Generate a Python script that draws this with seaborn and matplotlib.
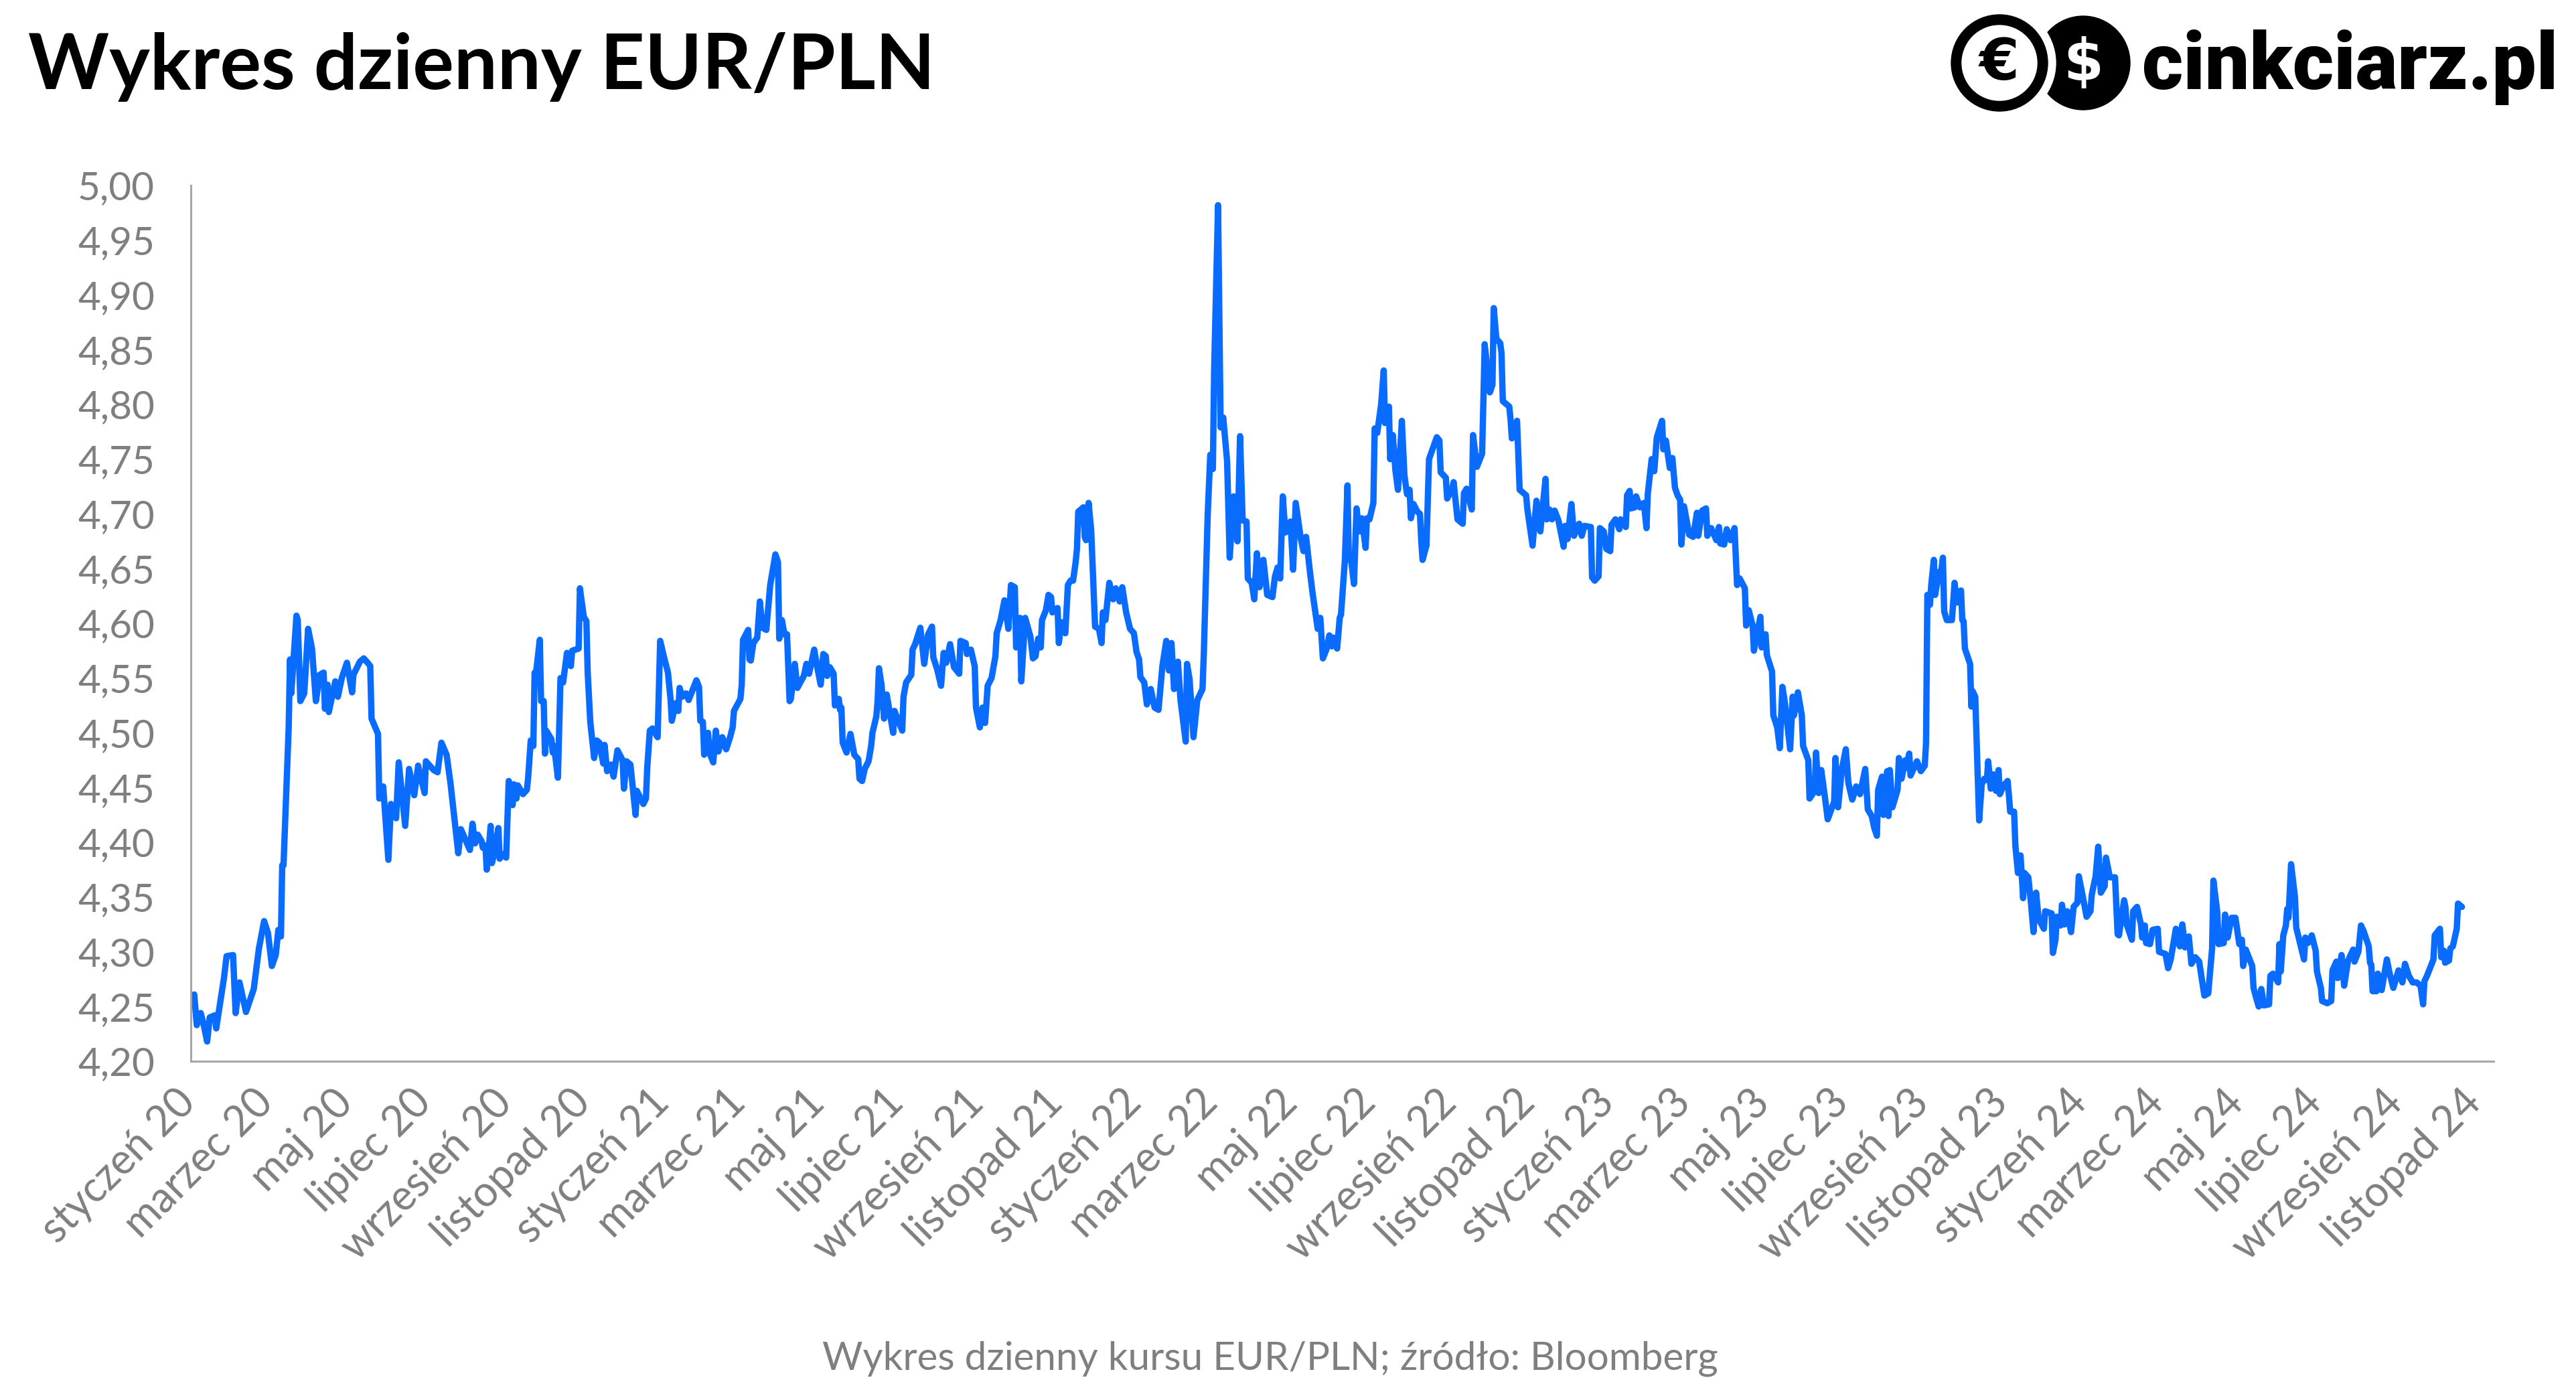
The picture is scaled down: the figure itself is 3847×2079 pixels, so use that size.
import matplotlib
matplotlib.use("Agg")
import matplotlib.pyplot as plt
from matplotlib.patches import Circle
from matplotlib.ticker import FuncFormatter, MultipleLocator
from matplotlib.transforms import ScaledTranslation
import numpy as np
import pandas as pd
import seaborn as sns

# ---------------- data (days since 2020-01-01, EUR/PLN rate) ----------------
days_a = [0, 2, 4, 5, 7, 10, 12, 16, 17, 23,
          25, 30, 32, 35, 40, 46, 50, 54, 57, 60,
          63, 65, 67, 68, 69, 73, 74, 75, 79, 80,
          82, 85, 88, 91, 94, 97, 100, 101, 103, 104,
          109, 111, 114, 118, 122, 123, 128, 131, 134, 136,
          137, 142, 143, 146, 150, 152, 156, 158, 163, 166,
          170, 173, 178, 179, 185, 188, 191, 195, 198, 204,
          206]
rate_a = [4.261, 4.233, 4.242, 4.244, 4.235, 4.218, 4.240, 4.242, 4.230, 4.276,
          4.296, 4.297, 4.244, 4.272, 4.245, 4.266, 4.303, 4.328, 4.317, 4.287,
          4.297, 4.320, 4.314, 4.379, 4.379, 4.505, 4.567, 4.536, 4.607, 4.603,
          4.529, 4.536, 4.595, 4.577, 4.529, 4.553, 4.555, 4.522, 4.544, 4.519,
          4.547, 4.533, 4.550, 4.564, 4.537, 4.553, 4.565, 4.568, 4.564, 4.561,
          4.513, 4.499, 4.440, 4.451, 4.384, 4.435, 4.422, 4.473, 4.415, 4.467,
          4.443, 4.470, 4.445, 4.474, 4.466, 4.464, 4.491, 4.480, 4.454, 4.390,
          4.412]

days_b = [213, 215, 217, 219, 222, 223, 225, 226, 228, 229,
          230, 232, 235, 236, 238, 241, 243, 246, 247, 249,
          250, 254, 257, 258, 260, 262, 263, 264, 267, 268,
          270, 271, 272, 276, 277, 278, 281, 283, 285, 288,
          291, 292, 297, 298, 299, 301, 303, 304, 306, 309,
          311, 313, 316, 317, 319, 322, 324, 327, 331, 332,
          334, 337, 341, 342, 347, 349, 350, 352, 354, 358,
          360, 363, 366, 368, 369, 372, 374, 375, 377, 380,
          382, 385, 388, 390, 391, 393, 394, 397, 398, 401,
          403, 405, 408, 411, 414, 416, 417, 422, 423, 424,
          428, 429]
rate_b = [4.393, 4.417, 4.399, 4.407, 4.401, 4.395, 4.397, 4.375, 4.400, 4.415,
          4.381, 4.391, 4.413, 4.385, 4.389, 4.386, 4.456, 4.434, 4.453, 4.440,
          4.452, 4.444, 4.448, 4.459, 4.493, 4.488, 4.555, 4.554, 4.585, 4.529,
          4.529, 4.481, 4.502, 4.494, 4.482, 4.488, 4.459, 4.550, 4.546, 4.573,
          4.561, 4.575, 4.577, 4.632, 4.623, 4.606, 4.602, 4.555, 4.510, 4.477,
          4.493, 4.491, 4.472, 4.489, 4.465, 4.471, 4.460, 4.484, 4.475, 4.449,
          4.474, 4.471, 4.425, 4.447, 4.435, 4.440, 4.468, 4.502, 4.504, 4.496,
          4.584, 4.569, 4.555, 4.531, 4.511, 4.527, 4.520, 4.541, 4.533, 4.536,
          4.530, 4.539, 4.548, 4.542, 4.511, 4.510, 4.480, 4.500, 4.482, 4.473,
          4.502, 4.483, 4.496, 4.485, 4.496, 4.505, 4.520, 4.531, 4.544, 4.585,
          4.594, 4.567]

days_c = [430, 432, 435, 437, 439, 442, 445, 449, 451, 452,
          454, 456, 458, 460, 461, 464, 466, 471, 473, 475,
          479, 481, 484, 486, 488, 489, 491, 494, 495, 498,
          499, 500, 501, 504, 507, 510, 513, 514, 516, 518,
          521, 523, 524, 527, 528, 529, 531, 533, 535, 540,
          541, 547, 548, 550, 554, 555, 557, 561, 564, 567,
          570, 571, 574, 577, 579, 581, 584, 587, 591, 592,
          596, 597, 600, 603, 604, 607, 609, 611, 613, 616,
          619, 620, 623, 626, 629, 631, 634, 635, 638, 639,
          642, 646]
rate_c = [4.566, 4.582, 4.587, 4.620, 4.596, 4.594, 4.635, 4.663, 4.656, 4.586,
          4.603, 4.590, 4.590, 4.529, 4.531, 4.563, 4.541, 4.552, 4.563, 4.554,
          4.576, 4.562, 4.544, 4.572, 4.570, 4.552, 4.560, 4.554, 4.525, 4.531,
          4.521, 4.523, 4.491, 4.482, 4.499, 4.480, 4.476, 4.458, 4.456, 4.467,
          4.474, 4.488, 4.500, 4.515, 4.529, 4.559, 4.544, 4.513, 4.535, 4.500,
          4.520, 4.502, 4.533, 4.546, 4.553, 4.576, 4.581, 4.596, 4.563, 4.590,
          4.597, 4.569, 4.558, 4.543, 4.573, 4.564, 4.581, 4.560, 4.554, 4.584,
          4.582, 4.572, 4.576, 4.561, 4.523, 4.505, 4.523, 4.509, 4.543, 4.550,
          4.570, 4.591, 4.603, 4.621, 4.595, 4.635, 4.633, 4.578, 4.605, 4.547,
          4.605, 4.588]

days_d = [648, 650, 652, 654, 655, 658, 660, 662, 663, 667,
          668, 670, 673, 675, 677, 679, 681, 682, 683, 687,
          688, 689, 691, 693, 696, 699, 701, 702, 704, 707,
          710, 712, 715, 717, 720, 723, 726, 728, 730, 731,
          734, 736, 739, 742, 745, 748, 751, 753, 755, 757,
          760, 762, 766, 767, 769, 772, 775, 779, 780, 783,
          785, 787, 788, 791, 793, 795, 798, 800, 803, 804,
          806, 808, 810, 813, 814, 817, 819, 821, 823, 826,
          829, 833, 835, 837, 839, 841, 843, 847, 849, 851,
          855, 857, 859, 862, 864]
rate_d = [4.568, 4.570, 4.586, 4.578, 4.603, 4.612, 4.626, 4.624, 4.610, 4.614,
          4.582, 4.601, 4.591, 4.635, 4.639, 4.639, 4.656, 4.668, 4.702, 4.706,
          4.679, 4.676, 4.710, 4.685, 4.597, 4.595, 4.582, 4.610, 4.603, 4.637,
          4.622, 4.632, 4.620, 4.633, 4.610, 4.595, 4.591, 4.574, 4.567, 4.551,
          4.546, 4.526, 4.540, 4.523, 4.521, 4.561, 4.584, 4.557, 4.582, 4.540,
          4.565, 4.530, 4.492, 4.563, 4.549, 4.496, 4.530, 4.540, 4.572, 4.699,
          4.754, 4.741, 4.832, 4.982, 4.779, 4.788, 4.748, 4.660, 4.716, 4.698,
          4.675, 4.771, 4.694, 4.693, 4.641, 4.637, 4.622, 4.664, 4.633, 4.658,
          4.626, 4.624, 4.643, 4.651, 4.641, 4.716, 4.683, 4.693, 4.649, 4.710,
          4.677, 4.666, 4.679, 4.647, 4.628]

days_e = [868, 870, 872, 875, 877, 879, 880, 883, 885, 886,
          889, 891, 892, 894, 896, 898, 900, 902, 905, 906,
          908, 911, 912, 914, 917, 919, 920, 923, 924, 926,
          928, 930, 933, 935, 937, 939, 940, 942, 945, 947,
          948, 949, 952, 954, 957, 960, 962, 963, 967, 968,
          972, 973, 976, 980, 981, 983, 987, 988, 991, 995,
          996, 997, 1001, 1003, 1004, 1006, 1009, 1010, 1011, 1016,
          1017, 1018, 1022, 1024, 1029, 1030, 1034, 1037, 1040, 1044,
          1045, 1047, 1049, 1051, 1054, 1058, 1059, 1061, 1064, 1066,
          1070, 1072, 1074, 1079, 1080, 1082, 1085]
rate_e = [4.595, 4.605, 4.568, 4.577, 4.589, 4.579, 4.587, 4.577, 4.605, 4.608,
          4.658, 4.726, 4.661, 4.656, 4.636, 4.705, 4.684, 4.696, 4.669, 4.696,
          4.695, 4.710, 4.778, 4.774, 4.800, 4.831, 4.783, 4.798, 4.750, 4.772,
          4.740, 4.722, 4.785, 4.735, 4.718, 4.722, 4.696, 4.709, 4.702, 4.700,
          4.675, 4.658, 4.671, 4.750, 4.760, 4.770, 4.767, 4.738, 4.733, 4.714,
          4.723, 4.729, 4.695, 4.691, 4.719, 4.723, 4.704, 4.772, 4.743, 4.755,
          4.803, 4.855, 4.811, 4.818, 4.888, 4.860, 4.856, 4.847, 4.803, 4.798,
          4.786, 4.769, 4.785, 4.722, 4.717, 4.704, 4.671, 4.712, 4.684, 4.732,
          4.695, 4.704, 4.695, 4.703, 4.694, 4.670, 4.689, 4.677, 4.709, 4.680,
          4.691, 4.680, 4.689, 4.688, 4.642, 4.639, 4.643]

days_f = [1086, 1089, 1091, 1094, 1095, 1098, 1101, 1102, 1106, 1107,
          1109, 1110, 1113, 1114, 1117, 1120, 1122, 1123, 1126, 1128,
          1130, 1134, 1135, 1137, 1140, 1142, 1144, 1146, 1148, 1149,
          1151, 1155, 1158, 1161, 1162, 1165, 1168, 1169, 1172, 1176,
          1178, 1179, 1182, 1184, 1187, 1190, 1192, 1194, 1198, 1199,
          1201, 1204, 1205, 1210, 1211, 1214, 1215, 1219, 1220, 1223,
          1225, 1227, 1229, 1233, 1235, 1236, 1239, 1242, 1243, 1247,
          1248, 1252, 1253, 1255, 1257, 1260, 1262, 1267, 1268, 1270,
          1273, 1276, 1278, 1281, 1284, 1287, 1291, 1293, 1296, 1298,
          1300, 1301, 1304, 1305]
rate_f = [4.687, 4.684, 4.668, 4.666, 4.690, 4.695, 4.686, 4.695, 4.688, 4.717,
          4.721, 4.705, 4.706, 4.716, 4.706, 4.710, 4.687, 4.718, 4.750, 4.739,
          4.770, 4.785, 4.759, 4.767, 4.742, 4.751, 4.724, 4.717, 4.713, 4.672,
          4.707, 4.681, 4.679, 4.701, 4.680, 4.703, 4.705, 4.680, 4.687, 4.676,
          4.688, 4.673, 4.672, 4.686, 4.676, 4.687, 4.635, 4.641, 4.632, 4.598,
          4.612, 4.598, 4.575, 4.606, 4.578, 4.590, 4.571, 4.556, 4.516, 4.505,
          4.486, 4.542, 4.527, 4.485, 4.533, 4.516, 4.537, 4.516, 4.488, 4.475,
          4.440, 4.447, 4.482, 4.445, 4.466, 4.440, 4.421, 4.437, 4.477, 4.432,
          4.467, 4.485, 4.454, 4.439, 4.451, 4.444, 4.467, 4.430, 4.424, 4.413,
          4.406, 4.448, 4.460, 4.425]

days_g = [1308, 1309, 1310, 1312, 1316, 1317, 1319, 1322, 1323, 1325,
          1326, 1331, 1334, 1337, 1338, 1339, 1341, 1342, 1344, 1345,
          1348, 1349, 1351, 1352, 1354, 1358, 1360, 1362, 1365, 1366,
          1367, 1368, 1372, 1373, 1374, 1376, 1379, 1381, 1383, 1385,
          1386, 1388, 1390, 1392, 1394, 1395, 1398, 1401, 1402, 1403,
          1406, 1407, 1409, 1411, 1413, 1414, 1417, 1419, 1421, 1423,
          1425, 1429, 1430, 1435, 1436, 1438, 1439, 1442, 1443, 1445,
          1447, 1450, 1452, 1455, 1456, 1459, 1462, 1465, 1466, 1469,
          1471, 1473, 1476, 1477, 1480, 1484, 1486, 1487, 1491, 1492,
          1493, 1497, 1498, 1501, 1504, 1505, 1507, 1508, 1511, 1513,
          1517, 1518, 1523, 1525]
rate_g = [4.465, 4.424, 4.466, 4.432, 4.448, 4.477, 4.458, 4.475, 4.468, 4.481,
          4.461, 4.474, 4.465, 4.470, 4.491, 4.626, 4.617, 4.635, 4.658, 4.626,
          4.647, 4.640, 4.660, 4.611, 4.603, 4.603, 4.637, 4.619, 4.630, 4.603,
          4.602, 4.577, 4.563, 4.524, 4.538, 4.533, 4.420, 4.453, 4.458, 4.457,
          4.474, 4.449, 4.462, 4.447, 4.466, 4.444, 4.452, 4.456, 4.443, 4.428,
          4.428, 4.397, 4.372, 4.388, 4.349, 4.372, 4.368, 4.345, 4.318, 4.354,
          4.330, 4.321, 4.337, 4.335, 4.299, 4.311, 4.332, 4.324, 4.343, 4.325,
          4.337, 4.318, 4.341, 4.345, 4.369, 4.351, 4.332, 4.337, 4.352, 4.369,
          4.396, 4.354, 4.360, 4.386, 4.368, 4.368, 4.316, 4.315, 4.347, 4.341,
          4.325, 4.311, 4.337, 4.341, 4.325, 4.313, 4.324, 4.308, 4.307, 4.320,
          4.321, 4.300, 4.298, 4.285]

days_h = [1527, 1531, 1534, 1536, 1538, 1541, 1543, 1546, 1549, 1553,
          1556, 1559, 1560, 1563, 1564, 1568, 1569, 1571, 1574, 1577,
          1580, 1582, 1583, 1585, 1590, 1591, 1593, 1595, 1597, 1599,
          1603, 1604, 1606, 1610, 1611, 1612, 1614, 1616, 1617, 1618,
          1620, 1623, 1624, 1630, 1631, 1633, 1636, 1639, 1640, 1643,
          1644, 1648, 1651, 1652, 1655, 1656, 1659, 1661, 1664, 1668,
          1669, 1672, 1674, 1676, 1680, 1681, 1682, 1683, 1686, 1687,
          1690, 1694, 1696, 1699, 1703, 1706, 1708, 1711, 1714, 1717,
          1720, 1722, 1723, 1725, 1730, 1731, 1735, 1736, 1738, 1739,
          1742, 1743, 1745, 1748, 1749, 1752]
rate_h = [4.293, 4.321, 4.305, 4.325, 4.304, 4.314, 4.289, 4.295, 4.291, 4.260,
          4.262, 4.303, 4.365, 4.336, 4.307, 4.308, 4.334, 4.313, 4.331, 4.331,
          4.307, 4.311, 4.287, 4.302, 4.287, 4.267, 4.258, 4.250, 4.266, 4.251,
          4.252, 4.278, 4.280, 4.272, 4.307, 4.282, 4.315, 4.324, 4.339, 4.331,
          4.380, 4.350, 4.322, 4.293, 4.313, 4.308, 4.315, 4.301, 4.282, 4.267,
          4.255, 4.253, 4.255, 4.283, 4.291, 4.276, 4.297, 4.269, 4.292, 4.302,
          4.291, 4.300, 4.324, 4.319, 4.305, 4.290, 4.288, 4.264, 4.264, 4.280,
          4.265, 4.293, 4.281, 4.267, 4.283, 4.272, 4.289, 4.278, 4.272, 4.272,
          4.269, 4.252, 4.273, 4.278, 4.293, 4.315, 4.321, 4.295, 4.301, 4.290,
          4.292, 4.303, 4.305, 4.321, 4.344, 4.341]

x_labels = ["styczeń 20", "marzec 20", "maj 20", "lipiec 20", "wrzesień 20", "listopad 20",
            "styczeń 21", "marzec 21", "maj 21", "lipiec 21", "wrzesień 21", "listopad 21",
            "styczeń 22", "marzec 22", "maj 22", "lipiec 22", "wrzesień 22", "listopad 22",
            "styczeń 23", "marzec 23", "maj 23", "lipiec 23", "wrzesień 23", "listopad 23",
            "styczeń 24", "marzec 24", "maj 24", "lipiec 24", "wrzesień 24", "listopad 24"]

title_text = "Wykres dzienny EUR/PLN"
footer_text = "Wykres dzienny kursu EUR/PLN; źródło: Bloomberg"
logo_text = "cinkciarz.pl"

# ---------------- build ----------------
all_days = days_a + days_b + days_c + days_d + days_e + days_f + days_g + days_h
all_rates = rate_a + rate_b + rate_c + rate_d + rate_e + rate_f + rate_g + rate_h
start = pd.Timestamp("2020-01-01")
df = pd.DataFrame({"data": start + pd.to_timedelta(np.array(all_days), unit="D"),
                   "kurs": all_rates})

sns.set_theme(style="white")
plt.rcParams["font.family"] = ["Lato", "DejaVu Sans"]

W, H = 3847, 2079
fig = plt.figure(figsize=(W / 100, H / 100), dpi=100)
fig.patch.set_facecolor("white")

ax = fig.add_axes([285 / W, 1 - 1585 / H, (3724 - 285) / W, (1585 - 277) / H])
sns.lineplot(data=df, x="data", y="kurs", ax=ax, color="#0A6CFF", linewidth=6.8,
             estimator=None, sort=False)

ax.set_ylim(4.20, 5.00)
ax.set_xlim(start + pd.Timedelta(days=-2.6), start + pd.Timedelta(days=1776.5))
ax.yaxis.set_major_locator(MultipleLocator(0.05))
ax.yaxis.set_major_formatter(FuncFormatter(lambda v, p: f"{v:.2f}".replace(".", ",")))
ticks = pd.date_range("2020-01-01", "2024-11-01", freq="2MS")
ax.set_xticks(ticks)
ax.set_xticklabels(x_labels, rotation=45, ha="right", rotation_mode="anchor")
ax.tick_params(axis="both", length=0, labelcolor="#7F7F7F")
ax.tick_params(axis="y", pad=39, labelsize=42)
ax.tick_params(axis="x", pad=30, labelsize=45)
shift = ScaledTranslation(-0.28, 0.10, fig.dpi_scale_trans)
for lab in ax.get_xticklabels():
    lab.set_transform(lab.get_transform() + shift)
ax.set_xlabel("")
ax.set_ylabel("")
ax.grid(False)
for s in ["top", "right"]:
    ax.spines[s].set_visible(False)
for s in ["left", "bottom"]:
    ax.spines[s].set_color("#A6A6A6")
    ax.spines[s].set_linewidth(2.2)

# title and footer
fig.text(42 / W, 1 - 133 / H, title_text, fontsize=83, fontweight="bold",
         color="black", ha="left", va="baseline")
fig.text(1897 / W, 1 - 2029 / H, footer_text, fontsize=42, color="#7F7F7F",
         ha="center", va="center")

# logo
lax = fig.add_axes([0, 0, 1, 1], zorder=5)
lax.set_xlim(0, W)
lax.set_ylim(H, 0)
lax.axis("off")
lax.patch.set_alpha(0)
lax.add_patch(Circle((3111, 94), 70, color="black"))
lax.add_patch(Circle((2986, 94), 84, color="white"))
lax.add_patch(Circle((2986, 94), 72, color="black"))
lax.add_patch(Circle((2986, 94), 56, color="white"))
lax.text(2986, 96, "€", fontsize=62, fontweight="bold", color="black",
         ha="center", va="center", family=["DejaVu Sans"])
lax.text(3111, 96, "$", fontsize=62, fontweight="bold", color="white",
         ha="center", va="center", family=["DejaVu Sans"])
lax.text(3820, 133, logo_text, fontsize=85, fontweight="black", color="black",
         ha="right", va="baseline", family=["Roboto", "DejaVu Sans"])

fig.savefig("out.png", dpi=100, facecolor="white")
